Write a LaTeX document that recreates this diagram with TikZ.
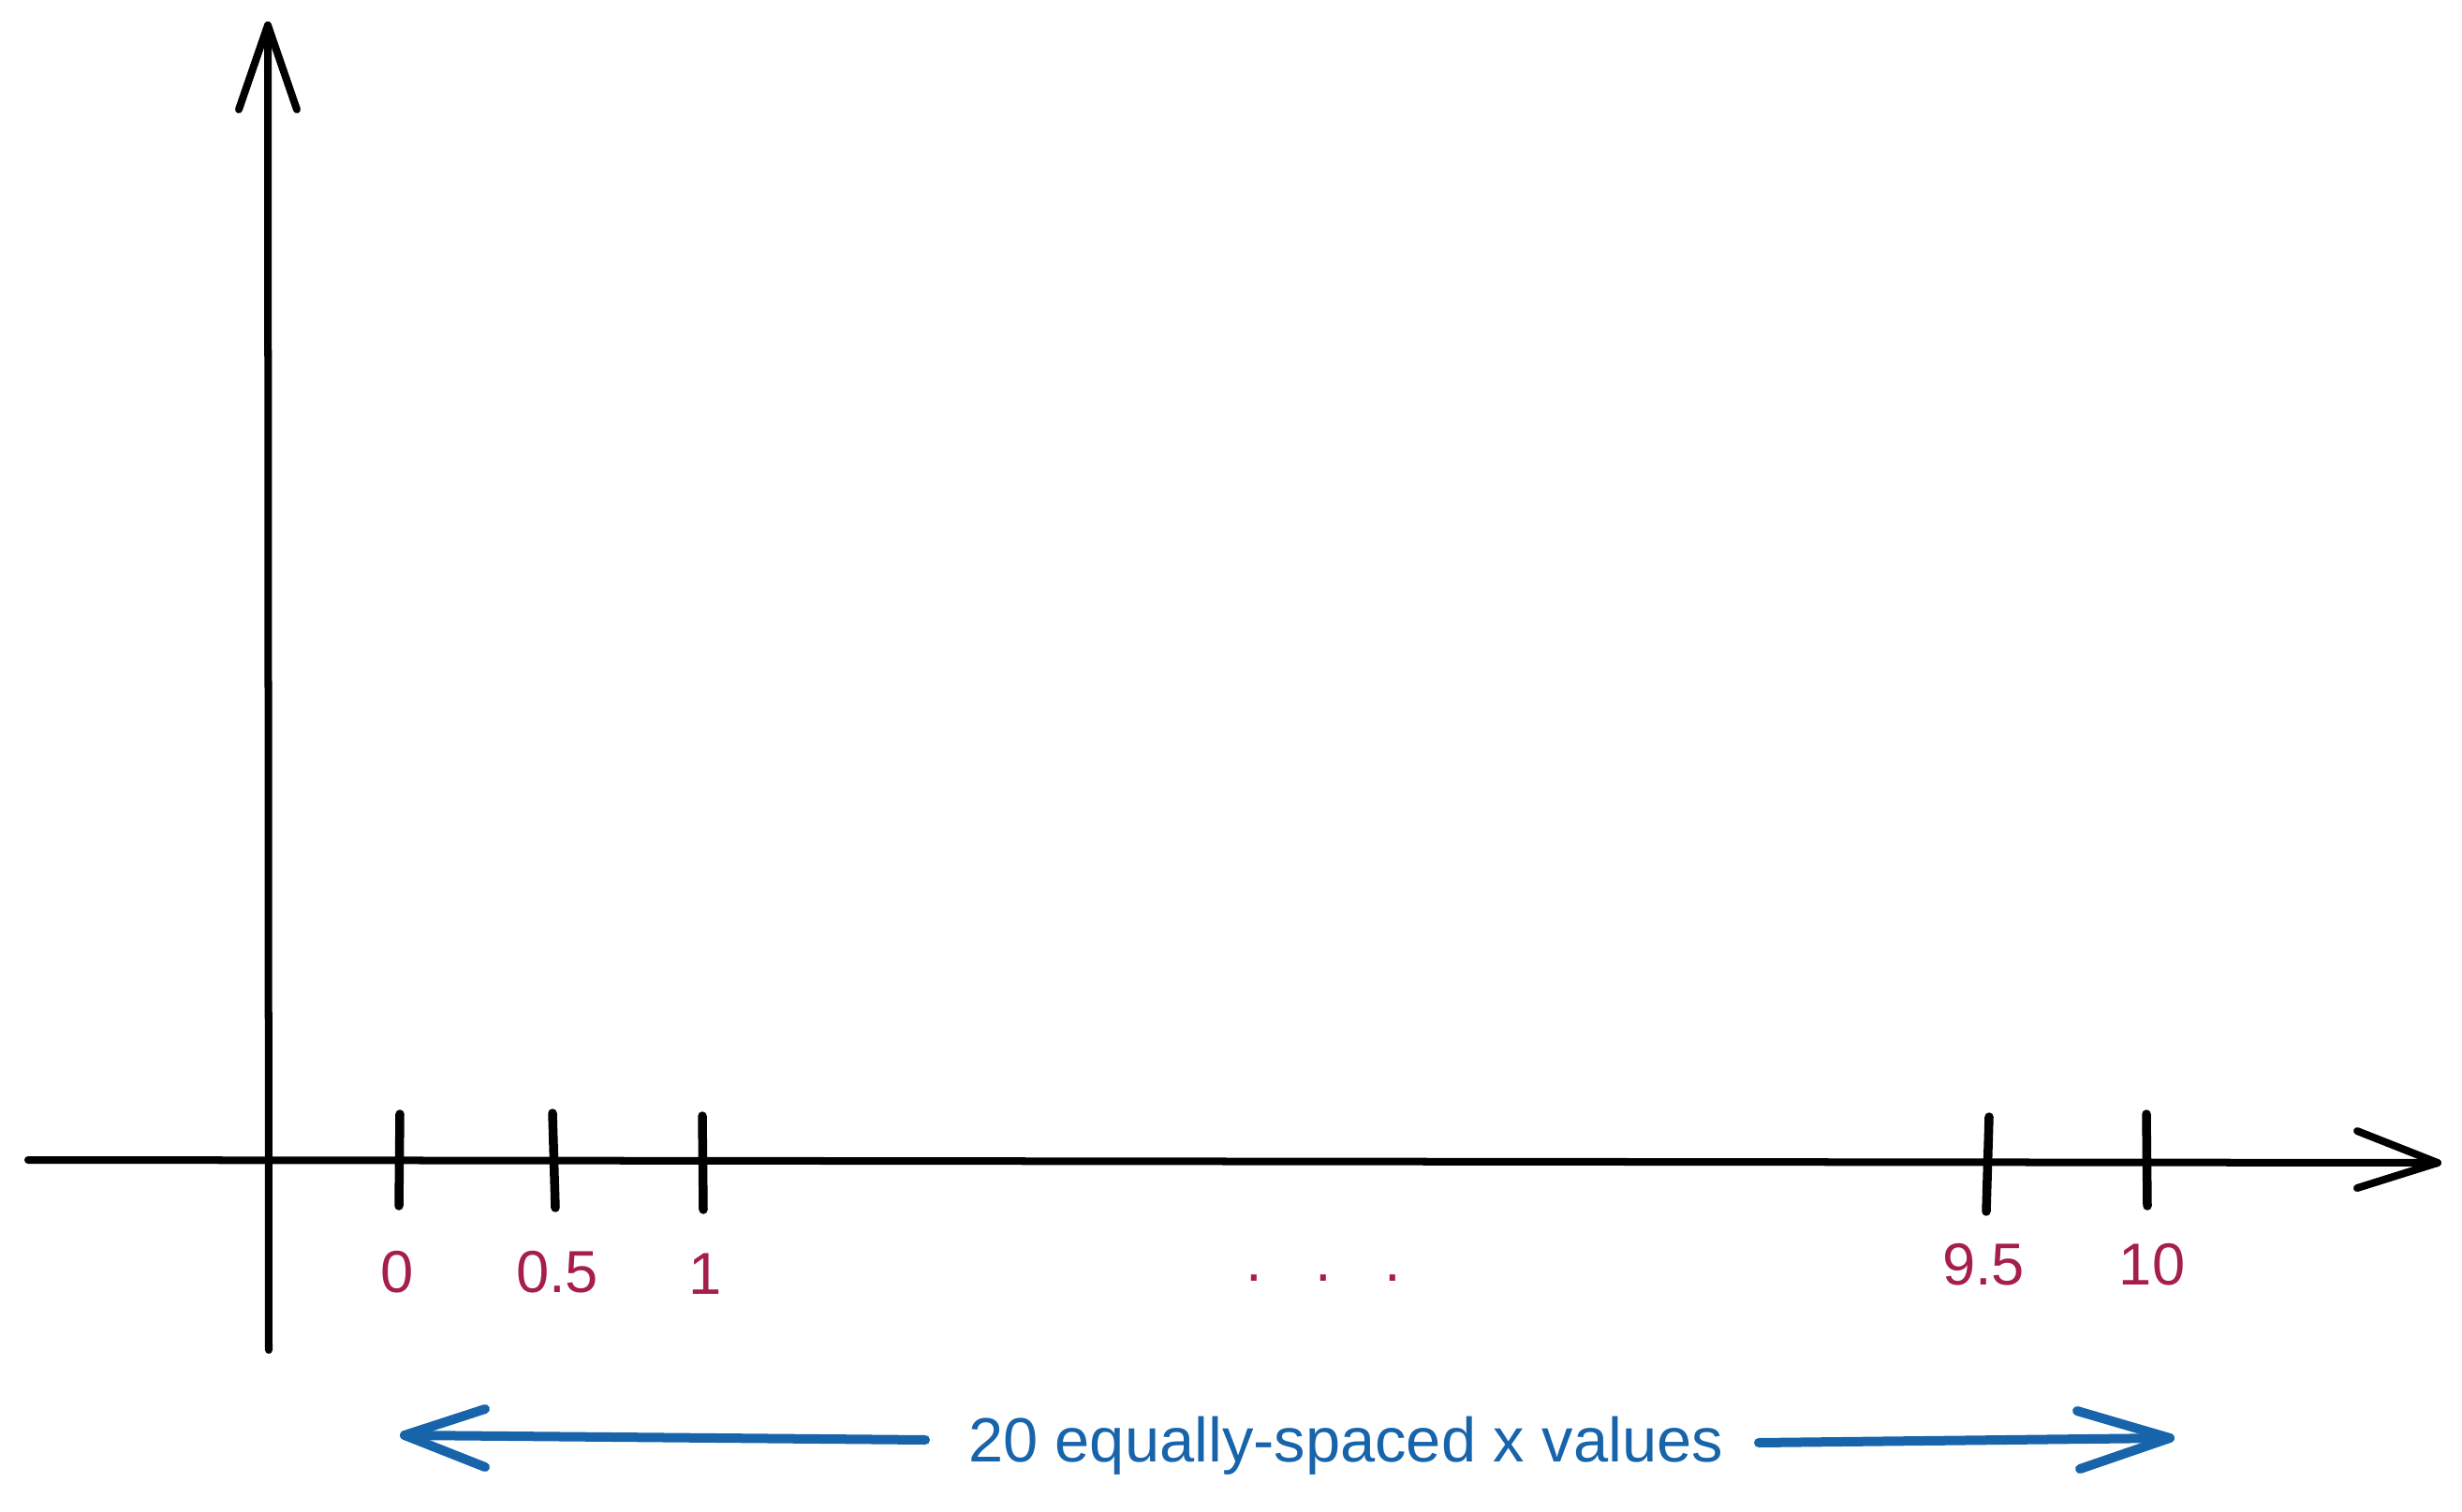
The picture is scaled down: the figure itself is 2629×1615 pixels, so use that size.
\documentclass[tikz,border=0pt]{standalone}
\usepackage{fontspec}
\setmainfont{Liberation Sans}
\definecolor{crim}{HTML}{A61E4D}
\definecolor{bluel}{HTML}{1864AB}
\begin{document}
\begin{tikzpicture}[x=0.01cm,y=-0.01cm,
  axisline/.style={line width=0.08cm,line cap=round,line join=round,black},
  tickline/.style={line width=0.095cm,line cap=round,black},
  bluearrow/.style={line width=0.1cm,line cap=round,line join=round,bluel},
  ticklabel/.style={font=\fontsize{18}{20}\selectfont,text=crim,anchor=base,inner sep=0pt},
  bluetext/.style={font=\fontsize{19}{22}\selectfont,text=bluel,anchor=base,inner sep=0pt}]
\useasboundingbox[fill=white] (0,0) rectangle (2629,1615);
% axes
\coordinate (yb) at (287,1442);
\coordinate (yt) at (286,27);
\coordinate (xl) at (30,1239);
\coordinate (xr) at (2603,1242);
\draw[axisline] (yb) -- (yt);
\draw[axisline] (yt) -- ++(-31,90) (yt) -- ++(31,90);
\draw[axisline] (xl) -- (xr);
\draw[axisline] (xr) -- ++(-86,-34) (xr) -- ++(-86,27);
% ticks
\coordinate (t0a) at (427,1190); \coordinate (t0b) at (426,1288);
\coordinate (t1a) at (590,1189); \coordinate (t1b) at (593,1290);
\coordinate (t2a) at (750,1192); \coordinate (t2b) at (751,1292);
\coordinate (t3a) at (2124,1193); \coordinate (t3b) at (2121,1294);
\coordinate (t4a) at (2292,1190); \coordinate (t4b) at (2293,1288);
\foreach \t in {0,1,2,3,4}{\draw[tickline] (t\t a) -- (t\t b);}
% labels
\node[ticklabel] (l0) at (424,1380) {0};
\node[ticklabel] (l1) at (595,1380) {0.5};
\node[ticklabel] (l2) at (753,1382) {1};
\node[ticklabel] (ldots) at (1413,1368) {.\hspace{16pt}.\hspace{16pt}.};
\node[ticklabel] (l3) at (2118,1372) {9.5};
\node[ticklabel] (l4) at (2298,1372) {10};
% blue double arrow
\node[bluetext] (txt) at (1437,1561) {20 equally-spaced x values};
\coordinate (bl) at (988,1538);
\coordinate (ltip) at (432,1533);
\coordinate (br) at (1878,1541);
\coordinate (rtip) at (2317,1536);
\draw[bluearrow] (bl) -- (ltip);
\draw[bluearrow] (ltip) -- ++(86,-28) (ltip) -- ++(86,34);
\draw[bluearrow] (br) -- (rtip);
\draw[bluearrow] (rtip) -- ++(-99,-29) (rtip) -- ++(-96,33);
\end{tikzpicture}
\end{document}
